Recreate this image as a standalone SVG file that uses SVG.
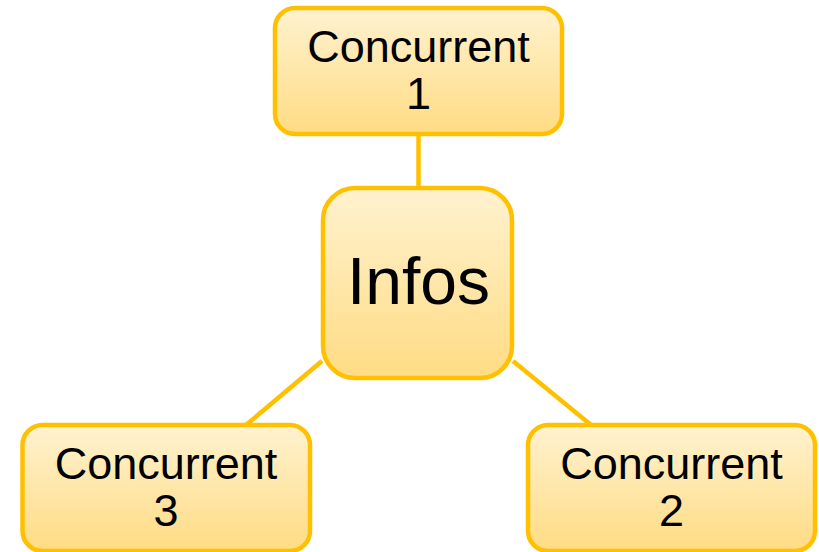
<svg xmlns="http://www.w3.org/2000/svg" width="819" height="552" viewBox="0 0 819 552">
  <defs>
    <linearGradient id="fillGrad" x1="0" y1="0" x2="0" y2="1">
      <stop offset="0" stop-color="#fff2cf"/>
      <stop offset="1" stop-color="#ffdc84"/>
    </linearGradient>
    <style>
      .node { fill: url(#fillGrad); stroke: #ffc000; stroke-width: 4.5; }
      .edge { stroke: #ffc000; stroke-width: 4.5; fill: none; }
      .lbl { font-family: "Liberation Sans", Arial, sans-serif; fill: #000000; text-anchor: middle; }
      .small { font-size: 45px; }
      .big { font-size: 66px; }
    </style>
  </defs>
  <rect width="819" height="552" fill="#ffffff"/>
  <g id="connectors">
    <line class="edge" x1="418.5" y1="134" x2="418.5" y2="188"/>
    <line class="edge" x1="322" y1="361" x2="246" y2="425"/>
    <line class="edge" x1="513" y1="361" x2="591" y2="425"/>
  </g>
  <g id="concurrent1">
    <rect class="node" x="275" y="8" width="287" height="126" rx="20" ry="20"/>
    <text class="lbl small" x="418.5" y="62">Concurrent</text>
    <text class="lbl small" x="418.5" y="109">1</text>
  </g>
  <g id="infos">
    <rect class="node" x="323" y="188" width="189" height="190" rx="32" ry="32"/>
    <text class="lbl big" x="418.5" y="304">Infos</text>
  </g>
  <g id="concurrent3">
    <rect class="node" x="22.5" y="425" width="287.5" height="126" rx="20" ry="20"/>
    <text class="lbl small" x="166" y="479">Concurrent</text>
    <text class="lbl small" x="166" y="526">3</text>
  </g>
  <g id="concurrent2">
    <rect class="node" x="528" y="425" width="287" height="126" rx="20" ry="20"/>
    <text class="lbl small" x="671.5" y="479">Concurrent</text>
    <text class="lbl small" x="671.5" y="526">2</text>
  </g>
</svg>
